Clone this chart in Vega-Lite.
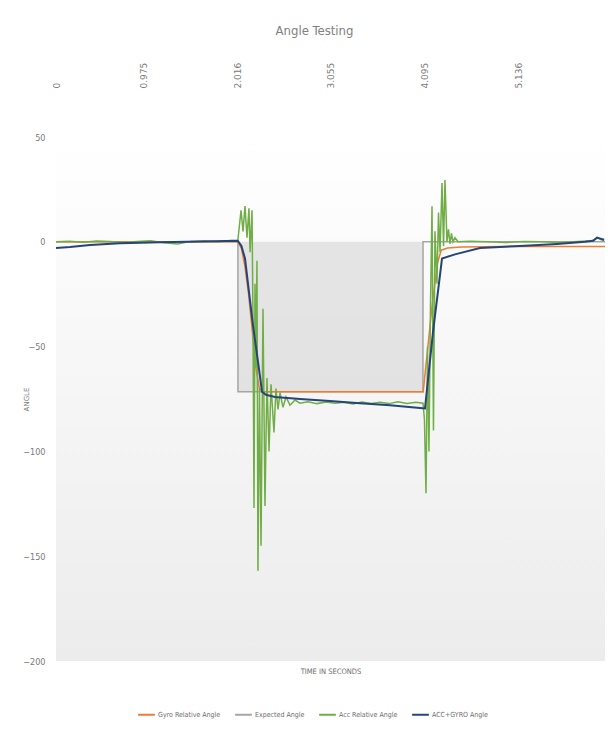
{
  "$schema": "https://vega.github.io/schema/vega-lite/v6.json",
  "width": 549,
  "height": 524,
  "autosize": {"type": "none"},
  "padding": {"left": 56, "top": 137, "right": 9, "bottom": 68},
  "background": "white",
  "title": {"text": "Angle Testing", "fontSize": 13, "font": "DejaVu Sans Condensed, Liberation Sans, sans-serif", "fontWeight": 300, "color": "#808080", "anchor": "middle", "dx": -16, "offset": 24},
  "data": {"values": [
    {"s": "Expected Angle", "t": 0, "v": 0},
    {"s": "Expected Angle", "t": 2.021, "v": 0},
    {"s": "Expected Angle", "t": 2.022, "v": -71.5},
    {"s": "Expected Angle", "t": 4.077, "v": -71.5},
    {"s": "Expected Angle", "t": 4.078, "v": 0},
    {"s": "Expected Angle", "t": 6.1, "v": 0},

    {"s": "Gyro Relative Angle", "t": 0, "v": 0},
    {"s": "Gyro Relative Angle", "t": 1.0, "v": 0},
    {"s": "Gyro Relative Angle", "t": 2.02, "v": 0},
    {"s": "Gyro Relative Angle", "t": 2.06, "v": -3},
    {"s": "Gyro Relative Angle", "t": 2.1, "v": -12},
    {"s": "Gyro Relative Angle", "t": 2.14, "v": -25},
    {"s": "Gyro Relative Angle", "t": 2.18, "v": -42},
    {"s": "Gyro Relative Angle", "t": 2.22, "v": -60},
    {"s": "Gyro Relative Angle", "t": 2.26, "v": -70},
    {"s": "Gyro Relative Angle", "t": 2.3, "v": -71.5},
    {"s": "Gyro Relative Angle", "t": 4.08, "v": -71.5},
    {"s": "Gyro Relative Angle", "t": 4.12, "v": -55},
    {"s": "Gyro Relative Angle", "t": 4.18, "v": -30},
    {"s": "Gyro Relative Angle", "t": 4.24, "v": -10},
    {"s": "Gyro Relative Angle", "t": 4.28, "v": -4},
    {"s": "Gyro Relative Angle", "t": 4.35, "v": -3},
    {"s": "Gyro Relative Angle", "t": 4.5, "v": -2.5},
    {"s": "Gyro Relative Angle", "t": 5.0, "v": -2.3},
    {"s": "Gyro Relative Angle", "t": 6.1, "v": -2.2},

    {"s": "Acc Relative Angle", "t": 0, "v": 0},
    {"s": "Acc Relative Angle", "t": 0.15, "v": 0.3},
    {"s": "Acc Relative Angle", "t": 0.3, "v": -0.2},
    {"s": "Acc Relative Angle", "t": 0.45, "v": 0.4},
    {"s": "Acc Relative Angle", "t": 0.6, "v": 0.1},
    {"s": "Acc Relative Angle", "t": 0.75, "v": -0.3},
    {"s": "Acc Relative Angle", "t": 0.9, "v": 0.2},
    {"s": "Acc Relative Angle", "t": 1.05, "v": 0.5},
    {"s": "Acc Relative Angle", "t": 1.2, "v": -0.4},
    {"s": "Acc Relative Angle", "t": 1.35, "v": -1},
    {"s": "Acc Relative Angle", "t": 1.5, "v": 0.2},
    {"s": "Acc Relative Angle", "t": 1.65, "v": 0.4},
    {"s": "Acc Relative Angle", "t": 1.8, "v": 0},
    {"s": "Acc Relative Angle", "t": 1.95, "v": 0.6},
    {"s": "Acc Relative Angle", "t": 2.02, "v": 0.5},
    {"s": "Acc Relative Angle", "t": 2.056, "v": 15},
    {"s": "Acc Relative Angle", "t": 2.078, "v": 5},
    {"s": "Acc Relative Angle", "t": 2.1, "v": 17},
    {"s": "Acc Relative Angle", "t": 2.122, "v": 2},
    {"s": "Acc Relative Angle", "t": 2.144, "v": 16},
    {"s": "Acc Relative Angle", "t": 2.156, "v": -5},
    {"s": "Acc Relative Angle", "t": 2.178, "v": 15},
    {"s": "Acc Relative Angle", "t": 2.189, "v": -40},
    {"s": "Acc Relative Angle", "t": 2.2, "v": -127},
    {"s": "Acc Relative Angle", "t": 2.211, "v": -20},
    {"s": "Acc Relative Angle", "t": 2.222, "v": -60},
    {"s": "Acc Relative Angle", "t": 2.233, "v": -9},
    {"s": "Acc Relative Angle", "t": 2.244, "v": -157},
    {"s": "Acc Relative Angle", "t": 2.261, "v": -70},
    {"s": "Acc Relative Angle", "t": 2.278, "v": -145},
    {"s": "Acc Relative Angle", "t": 2.3, "v": -32},
    {"s": "Acc Relative Angle", "t": 2.322, "v": -126},
    {"s": "Acc Relative Angle", "t": 2.344, "v": -65},
    {"s": "Acc Relative Angle", "t": 2.367, "v": -100},
    {"s": "Acc Relative Angle", "t": 2.389, "v": -68},
    {"s": "Acc Relative Angle", "t": 2.422, "v": -91},
    {"s": "Acc Relative Angle", "t": 2.444, "v": -70},
    {"s": "Acc Relative Angle", "t": 2.467, "v": -80},
    {"s": "Acc Relative Angle", "t": 2.489, "v": -72},
    {"s": "Acc Relative Angle", "t": 2.522, "v": -79},
    {"s": "Acc Relative Angle", "t": 2.556, "v": -74},
    {"s": "Acc Relative Angle", "t": 2.6, "v": -78},
    {"s": "Acc Relative Angle", "t": 2.656, "v": -75.5},
    {"s": "Acc Relative Angle", "t": 2.711, "v": -77},
    {"s": "Acc Relative Angle", "t": 2.8, "v": -76.3},
    {"s": "Acc Relative Angle", "t": 2.9, "v": -77.2},
    {"s": "Acc Relative Angle", "t": 3.0, "v": -76.4},
    {"s": "Acc Relative Angle", "t": 3.1, "v": -77},
    {"s": "Acc Relative Angle", "t": 3.2, "v": -76.5},
    {"s": "Acc Relative Angle", "t": 3.3, "v": -77.4},
    {"s": "Acc Relative Angle", "t": 3.4, "v": -76.4},
    {"s": "Acc Relative Angle", "t": 3.5, "v": -77.1},
    {"s": "Acc Relative Angle", "t": 3.6, "v": -76.6},
    {"s": "Acc Relative Angle", "t": 3.7, "v": -77.2},
    {"s": "Acc Relative Angle", "t": 3.8, "v": -76.3},
    {"s": "Acc Relative Angle", "t": 3.9, "v": -77.1},
    {"s": "Acc Relative Angle", "t": 4.0, "v": -76.5},
    {"s": "Acc Relative Angle", "t": 4.078, "v": -77},
    {"s": "Acc Relative Angle", "t": 4.094, "v": -85},
    {"s": "Acc Relative Angle", "t": 4.111, "v": -120},
    {"s": "Acc Relative Angle", "t": 4.128, "v": -50},
    {"s": "Acc Relative Angle", "t": 4.144, "v": -100},
    {"s": "Acc Relative Angle", "t": 4.161, "v": -30},
    {"s": "Acc Relative Angle", "t": 4.178, "v": 17},
    {"s": "Acc Relative Angle", "t": 4.194, "v": -90},
    {"s": "Acc Relative Angle", "t": 4.211, "v": 5},
    {"s": "Acc Relative Angle", "t": 4.233, "v": -20},
    {"s": "Acc Relative Angle", "t": 4.25, "v": 14},
    {"s": "Acc Relative Angle", "t": 4.267, "v": -5},
    {"s": "Acc Relative Angle", "t": 4.289, "v": 28},
    {"s": "Acc Relative Angle", "t": 4.306, "v": -2},
    {"s": "Acc Relative Angle", "t": 4.322, "v": 29.5},
    {"s": "Acc Relative Angle", "t": 4.344, "v": 0},
    {"s": "Acc Relative Angle", "t": 4.361, "v": 6},
    {"s": "Acc Relative Angle", "t": 4.378, "v": -1},
    {"s": "Acc Relative Angle", "t": 4.394, "v": 4},
    {"s": "Acc Relative Angle", "t": 4.411, "v": 0},
    {"s": "Acc Relative Angle", "t": 4.433, "v": 2},
    {"s": "Acc Relative Angle", "t": 4.467, "v": 0},
    {"s": "Acc Relative Angle", "t": 4.6, "v": 0.3},
    {"s": "Acc Relative Angle", "t": 4.8, "v": 0},
    {"s": "Acc Relative Angle", "t": 5.0, "v": -0.3},
    {"s": "Acc Relative Angle", "t": 5.2, "v": 0.2},
    {"s": "Acc Relative Angle", "t": 5.4, "v": 0},
    {"s": "Acc Relative Angle", "t": 5.6, "v": -0.3},
    {"s": "Acc Relative Angle", "t": 5.8, "v": 0.2},
    {"s": "Acc Relative Angle", "t": 5.95, "v": 0.5},
    {"s": "Acc Relative Angle", "t": 6.02, "v": 1.8},
    {"s": "Acc Relative Angle", "t": 6.06, "v": 1},
    {"s": "Acc Relative Angle", "t": 6.09, "v": 0.5},

    {"s": "ACC+GYRO Angle", "t": 0, "v": -3},
    {"s": "ACC+GYRO Angle", "t": 0.156, "v": -2.5},
    {"s": "ACC+GYRO Angle", "t": 0.378, "v": -1.5},
    {"s": "ACC+GYRO Angle", "t": 0.711, "v": -0.7},
    {"s": "ACC+GYRO Angle", "t": 1.156, "v": -0.2},
    {"s": "ACC+GYRO Angle", "t": 1.6, "v": 0.2},
    {"s": "ACC+GYRO Angle", "t": 2.02, "v": 0.5},
    {"s": "ACC+GYRO Angle", "t": 2.06, "v": -2},
    {"s": "ACC+GYRO Angle", "t": 2.1, "v": -8},
    {"s": "ACC+GYRO Angle", "t": 2.189, "v": -40},
    {"s": "ACC+GYRO Angle", "t": 2.244, "v": -57},
    {"s": "ACC+GYRO Angle", "t": 2.289, "v": -71.5},
    {"s": "ACC+GYRO Angle", "t": 2.333, "v": -73},
    {"s": "ACC+GYRO Angle", "t": 2.433, "v": -74},
    {"s": "ACC+GYRO Angle", "t": 2.711, "v": -75},
    {"s": "ACC+GYRO Angle", "t": 3.044, "v": -76},
    {"s": "ACC+GYRO Angle", "t": 3.378, "v": -77},
    {"s": "ACC+GYRO Angle", "t": 3.711, "v": -78},
    {"s": "ACC+GYRO Angle", "t": 4.044, "v": -79.3},
    {"s": "ACC+GYRO Angle", "t": 4.1, "v": -79.5},
    {"s": "ACC+GYRO Angle", "t": 4.189, "v": -43},
    {"s": "ACC+GYRO Angle", "t": 4.289, "v": -8},
    {"s": "ACC+GYRO Angle", "t": 4.433, "v": -6},
    {"s": "ACC+GYRO Angle", "t": 4.711, "v": -3},
    {"s": "ACC+GYRO Angle", "t": 5.156, "v": -2},
    {"s": "ACC+GYRO Angle", "t": 5.567, "v": -1},
    {"s": "ACC+GYRO Angle", "t": 5.878, "v": 0},
    {"s": "ACC+GYRO Angle", "t": 5.97, "v": 0.5},
    {"s": "ACC+GYRO Angle", "t": 6.011, "v": 2},
    {"s": "ACC+GYRO Angle", "t": 6.05, "v": 1.5},
    {"s": "ACC+GYRO Angle", "t": 6.09, "v": 1}
  ]},
  "resolve": {"axis": {"x": "independent"}},
  "layer": [
    {
      "transform": [{"filter": "datum.s === 'Expected Angle'"}],
      "mark": {"type": "area", "color": "#d6d6d6", "opacity": 0.6},
      "encoding": {
        "x": {"field": "t", "type": "quantitative", "scale": {"domain": [0, 6.1], "nice": false, "zero": false},
          "axis": {"orient": "top", "values": [0, 0.975, 2.016, 3.055, 4.095, 5.136], "labelExpr": "datum.value === 0 ? '0' : format(datum.value, '.3f')", "labelAngle": 270, "labelPadding": 49, "labelFont": "DejaVu Sans, sans-serif", "labelFontSize": 9, "labelColor": "#7a7a7a", "title": null, "labelFlush": false}},
        "y": {"field": "v", "type": "quantitative", "scale": {"domain": [-200, 50], "nice": false},
          "axis": {"values": [-200, -150, -100, -50, 0, 50], "labelFont": "DejaVu Sans Condensed, Liberation Sans, sans-serif", "labelFontSize": 9, "labelColor": "#7a7a7a", "labelPadding": 11, "title": "ANGLE", "titleFont": "DejaVu Sans, sans-serif", "titleFontSize": 7, "titleFontWeight": "normal", "titleColor": "#7a7a7a", "titlePadding": -7}}
      }
    },
    {
      "transform": [{"filter": "datum.s === 'Expected Angle'"}],
      "mark": {"type": "line", "strokeWidth": 1.5, "interpolate": "linear"},
      "encoding": {
        "x": {"field": "t", "type": "quantitative", "axis": {"orient": "bottom", "labels": false, "title": "TIME IN SECONDS", "titleFont": "DejaVu Sans Condensed, Liberation Sans, sans-serif", "titleFontSize": 7.5, "titleFontWeight": "normal", "titleColor": "#6e6e6e", "titlePadding": 6}},
        "y": {"field": "v", "type": "quantitative"},
        "color": {"field": "s", "type": "nominal",
          "scale": {"domain": ["Gyro Relative Angle", "Expected Angle", "Acc Relative Angle", "ACC+GYRO Angle"], "range": ["#ed7d31", "#a5a5a5", "#70ad47", "#264478"]},
          "legend": {"title": null, "orient": "none", "legendX": 81, "legendY": 568, "direction": "horizontal", "symbolType": "stroke", "symbolStrokeWidth": 2, "symbolSize": 280, "labelFont": "DejaVu Sans Condensed, Liberation Sans, sans-serif", "labelFontSize": 7, "labelOffset": 2, "labelColor": "#6e6e6e", "columnPadding": 10}}
      }
    },
    {
      "transform": [{"filter": "datum.s === 'Gyro Relative Angle'"}],
      "mark": {"type": "line", "strokeWidth": 1.5},
      "encoding": {
        "x": {"field": "t", "type": "quantitative", "axis": null},
        "y": {"field": "v", "type": "quantitative"},
        "color": {"field": "s", "type": "nominal"}
      }
    },
    {
      "transform": [{"filter": "datum.s === 'Acc Relative Angle'"}],
      "mark": {"type": "line", "strokeWidth": 1.5},
      "encoding": {
        "x": {"field": "t", "type": "quantitative", "axis": null},
        "y": {"field": "v", "type": "quantitative"},
        "color": {"field": "s", "type": "nominal"}
      }
    },
    {
      "transform": [{"filter": "datum.s === 'ACC+GYRO Angle'"}],
      "mark": {"type": "line", "strokeWidth": 2},
      "encoding": {
        "x": {"field": "t", "type": "quantitative", "axis": null},
        "y": {"field": "v", "type": "quantitative"},
        "color": {"field": "s", "type": "nominal"}
      }
    }
  ],
  "config": {
    "view": {"stroke": null, "fill": {"gradient": "linear", "x1": 0, "y1": 0, "x2": 0, "y2": 1, "stops": [{"offset": 0, "color": "#ffffff"}, {"offset": 1, "color": "#ececec"}]}},
    "axis": {"grid": false, "domain": false, "ticks": false}
  }
}
